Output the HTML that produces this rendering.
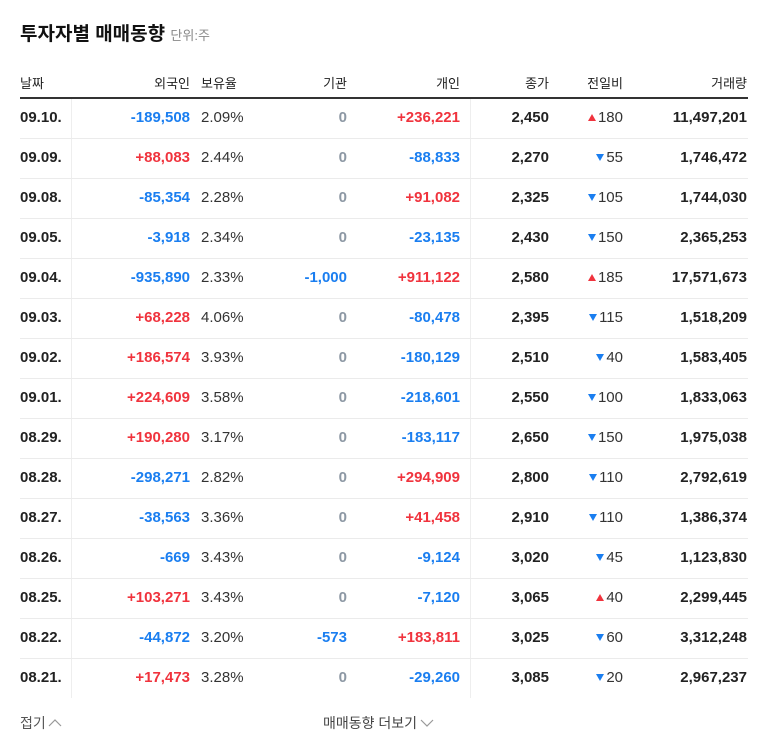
<!DOCTYPE html>
<html><head><meta charset="utf-8"><style>
body{margin:0;width:768px;height:749px;background:#fff;font-family:"Liberation Sans","Noto Sans CJK KR",sans-serif;position:relative;overflow:hidden;color:#222}
.a{position:absolute;white-space:nowrap}
.r{color:#f0333d}.b{color:#1a7ef0}.g{color:#8d98a4}
.hd{font-size:13px;color:#222;top:73px}
.c{font-size:15px;font-weight:bold}
.p{font-size:15px;color:#333}
.tu{display:inline-block;width:0;height:0;border-left:4px solid transparent;border-right:4px solid transparent;border-bottom:7px solid #f0333d;margin-right:2px;vertical-align:1px}
.td{display:inline-block;width:0;height:0;border-left:4px solid transparent;border-right:4px solid transparent;border-top:7px solid #1a7ef0;margin-right:2px;vertical-align:1px}
</style></head><body>
<div class="a" style="left:20px;top:19px;font-size:19px;font-weight:bold;color:#111">투자자별 매매동향 <span style="font-size:13px;font-weight:normal;color:#888">단위:주</span></div>
<div class="a hd" style="left:20px">날짜</div>
<div class="a hd" style="right:578px">외국인</div>
<div class="a hd" style="left:201px">보유율</div>
<div class="a hd" style="right:421px">기관</div>
<div class="a hd" style="right:308px">개인</div>
<div class="a hd" style="right:219px">종가</div>
<div class="a hd" style="right:145px">전일비</div>
<div class="a hd" style="right:21px">거래량</div>
<div class="a" style="left:20px;top:97px;width:728px;height:2px;background:#333"></div>
<div class="a" style="left:71px;top:99px;width:1px;height:599px;background:#eee"></div>
<div class="a" style="left:470px;top:99px;width:1px;height:599px;background:#eee"></div>
<div id="rows"></div>
<div class="a" style="left:20px;top:713px;font-size:14px;color:#555">접기<svg width="14" height="10" style="margin-left:2px"><polyline points="1,8 7,2 13,8" fill="none" stroke="#999" stroke-width="1.2"/></svg></div>
<div class="a" style="left:323px;top:713px;font-size:14px;color:#444">매매동향 더보기<svg width="14" height="10" style="margin-left:3px"><polyline points="1,2 7,8 13,2" fill="none" stroke="#999" stroke-width="1.2"/></svg></div>
<script>
const dates=["09.10.","09.09.","09.08.","09.05.","09.04.","09.03.","09.02.","09.01.","08.29.","08.28.","08.27.","08.26.","08.25.","08.22.","08.21."];
const foreign=[-189508,88083,-85354,-3918,-935890,68228,186574,224609,190280,-298271,-38563,-669,103271,-44872,17473];
const holding=[2.09,2.44,2.28,2.34,2.33,4.06,3.93,3.58,3.17,2.82,3.36,3.43,3.43,3.20,3.28];
const inst=[0,0,0,0,-1000,0,0,0,0,0,0,0,0,-573,0];
const indiv=[236221,-88833,91082,-23135,911122,-80478,-180129,-218601,-183117,294909,41458,-9124,-7120,183811,-29260];
const closeP=[2450,2270,2325,2430,2580,2395,2510,2550,2650,2800,2910,3020,3065,3025,3085];
const change=[180,-55,-105,-150,185,-115,-40,-100,-150,-110,-110,-45,40,-60,-20];
const volume=[11497201,1746472,1744030,2365253,17571673,1518209,1583405,1833063,1975038,2792619,1386374,1123830,2299445,3312248,2967237];
const root=document.getElementById('rows');
const f=n=>n.toLocaleString('en-US');
const sg=n=>n>0?'+'+f(n):f(n);
const cl=n=>n>0?'r':n<0?'b':'g';
function cell(cls,style,txt,name){const d=document.createElement('div');d.className='a '+cls;d.style.cssText=style;d.innerHTML=txt;


root.appendChild(d);}
dates.forEach((d,i)=>{const t=99+i*40;const ty=t+10;
cell('c','left:20px;top:'+ty+'px;color:#222',d,'date-cell');
cell('c '+cl(foreign[i]),'right:578px;top:'+ty+'px',sg(foreign[i]),'foreign-cell');
cell('p','left:201px;top:'+ty+'px',holding[i].toFixed(2)+'%','holding-cell');
cell('c '+cl(inst[i]),'right:421px;top:'+ty+'px',sg(inst[i]),'institution-cell');
cell('c '+cl(indiv[i]),'right:308px;top:'+ty+'px',sg(indiv[i]),'individual-cell');
cell('c','right:219px;top:'+ty+'px;color:#222',f(closeP[i]),'close-cell');
const up=change[i]>0;
cell('p '+(up?'r':'b'),'right:145px;top:'+ty+'px','<span class="'+(up?'tu':'td')+'"></span>'+Math.abs(change[i]),'change-cell');
cell('c','right:21px;top:'+ty+'px;color:#222',f(volume[i]),'volume-cell');
if(i<dates.length-1)cell('','left:20px;top:'+(t+39)+'px;width:728px;height:1px;background:#ebebeb','','row-divider');
});
</script>
</body></html>
